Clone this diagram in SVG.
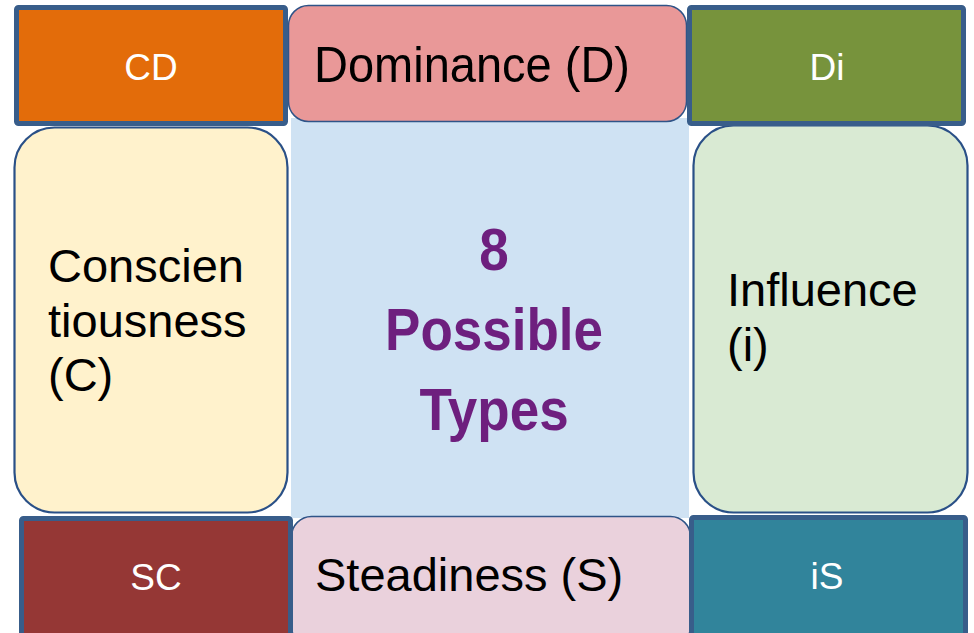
<svg xmlns="http://www.w3.org/2000/svg" width="974" height="633" viewBox="0 0 974 633">
<style>
.corner{stroke:#385d8a;stroke-width:5}
.thin{stroke:#2f5488;stroke-width:1.5}
.side{stroke:#2a5087;stroke-width:2.2}
.wt{font-family:"Liberation Sans",Arial,sans-serif;font-size:37px;fill:#ffffff;text-anchor:middle}
.bt{font-family:"Liberation Sans",Arial,sans-serif;font-size:47px;fill:#000000}
.pt{font-family:"Liberation Sans",Arial,sans-serif;font-size:53px;font-weight:bold;fill:#6e1f7e;text-anchor:middle}
</style>
<rect width="974" height="633" fill="#ffffff"/>
<g id="center">
<rect x="291" y="118" width="398" height="400" fill="#cfe2f3"/>
<text class="pt" transform="translate(494,270) scale(1,1.1)">8</text>
<text class="pt" transform="translate(494,350) scale(1,1.1)">Possible</text>
<text class="pt" transform="translate(494,430) scale(1,1.1)">Types</text>
</g>
<g id="conscientiousness">
<rect class="side" x="14.5" y="127.5" width="273" height="385" rx="40" fill="#fff2cc"/>
<text class="bt" x="48" y="282">Conscien</text>
<text class="bt" x="48" y="337">tiousness</text>
<text class="bt" x="48" y="391">(C)</text>
</g>
<g id="influence">
<rect class="side" x="693.5" y="125.5" width="274" height="387" rx="40" fill="#d9ead3"/>
<text class="bt" x="727" y="306">Influence</text>
<text class="bt" x="727" y="361">(i)</text>
</g>
<g id="dominance">
<rect class="thin" x="288.5" y="5.5" width="398" height="116" rx="20" fill="#e99898"/>
<text class="bt" font-size="47" transform="translate(314,82) scale(1,1.08)">Dominance (D)</text>
</g>
<g id="steadiness">
<rect class="thin" x="291.5" y="516.5" width="399" height="130" rx="20" fill="#ead1dc"/>
<text class="bt" x="315" y="591" font-size="48">Steadiness (S)</text>
</g>
<g id="cd">
<rect class="corner" x="16.5" y="7.5" width="269" height="116" rx="2" fill="#e36c0a"/>
<text class="wt" x="151" y="80">CD</text>
</g>
<g id="di">
<rect class="corner" x="689.5" y="7.5" width="274" height="116" rx="2" fill="#77933c"/>
<text class="wt" x="827" y="80">Di</text>
</g>
<g id="sc">
<rect class="corner" x="21.5" y="518.5" width="269" height="130" rx="2" fill="#953735"/>
<text class="wt" x="156" y="590">SC</text>
</g>
<g id="is">
<rect class="corner" x="691.5" y="517.5" width="274" height="130" rx="2" fill="#31849b"/>
<text class="wt" x="827" y="589">iS</text>
</g>
<g id="connectors"></g>
</svg>
